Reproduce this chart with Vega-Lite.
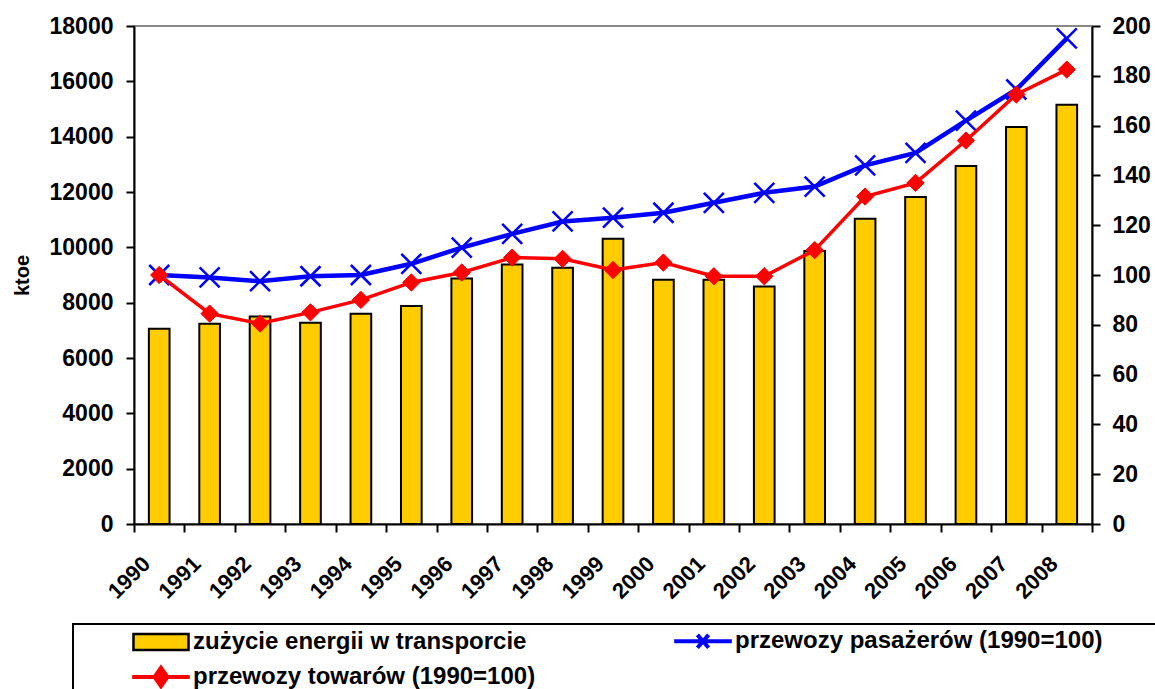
{
  "$schema": "https://vega.github.io/schema/vega-lite/v6.json",
  "width": 958,
  "height": 498,
  "autosize": "none",
  "padding": {"left": 134, "top": 26, "right": 63, "bottom": 165},
  "background": "white",
  "data": {
    "values": [
      {"rok": "1990", "energia": 7060, "pasazerowie": 100, "towary": 100},
      {"rok": "1991", "energia": 7240, "pasazerowie": 99, "towary": 84.5},
      {"rok": "1992", "energia": 7500, "pasazerowie": 97.5, "towary": 80.5},
      {"rok": "1993", "energia": 7270, "pasazerowie": 99.5, "towary": 85},
      {"rok": "1994", "energia": 7600, "pasazerowie": 100, "towary": 90},
      {"rok": "1995", "energia": 7880, "pasazerowie": 104.5, "towary": 97},
      {"rok": "1996", "energia": 8870, "pasazerowie": 111, "towary": 101},
      {"rok": "1997", "energia": 9380, "pasazerowie": 116.5, "towary": 107},
      {"rok": "1998", "energia": 9260, "pasazerowie": 121.5, "towary": 106.5},
      {"rok": "1999", "energia": 10310, "pasazerowie": 123, "towary": 102},
      {"rok": "2000", "energia": 8830, "pasazerowie": 125, "towary": 105},
      {"rok": "2001", "energia": 8830, "pasazerowie": 129, "towary": 99.5},
      {"rok": "2002", "energia": 8580, "pasazerowie": 133, "towary": 99.5},
      {"rok": "2003", "energia": 9870, "pasazerowie": 135.5, "towary": 110},
      {"rok": "2004", "energia": 11030, "pasazerowie": 144, "towary": 131.5},
      {"rok": "2005", "energia": 11820, "pasazerowie": 149, "towary": 137},
      {"rok": "2006", "energia": 12940, "pasazerowie": 162, "towary": 154},
      {"rok": "2007", "energia": 14350, "pasazerowie": 174.5, "towary": 172.5},
      {"rok": "2008", "energia": 15150, "pasazerowie": 195, "towary": 182.5}
    ]
  },
  "config": {
    "font": "Liberation Sans",
    "view": {"stroke": "#888888", "strokeWidth": 2},
    "axis": {
      "domainColor": "black",
      "domainWidth": 2,
      "tickColor": "black",
      "tickWidth": 2,
      "tickSize": 8,
      "labelFont": "Liberation Sans",
      "labelFontWeight": "bold",
      "labelColor": "black",
      "titleFont": "Liberation Sans",
      "titleFontWeight": "bold",
      "titleColor": "black",
      "grid": false,
      "zindex": 1
    },
    "legend": {
      "orient": "none",
      "legendX": -61,
      "legendY": 598,
      "direction": "horizontal",
      "columns": 2,
      "columnPadding": -10,
      "rowPadding": 3,
      "padding": 5,
      "strokeColor": "black",
      "strokeWidth": 2,
      "gridAlign": "each",
      "labelFont": "Liberation Sans",
      "labelFontSize": 24,
      "labelFontWeight": "bold",
      "labelColor": "black",
      "labelLimit": 700,
      "symbolSize": 256,
      "symbolOffset": 71,
      "labelOffset": 20
    }
  },
  "layer": [
    {
      "mark": {"type": "bar", "fill": "#FFCC00", "stroke": "black", "strokeWidth": 2, "width": {"band": 0.41}},
      "encoding": {
        "x": {
          "field": "rok",
          "type": "ordinal",
          "scale": {"paddingInner": 0, "paddingOuter": 0},
          "axis": {
            "title": null,
            "tickBand": "extent",
            "labelAngle": -45,
            "labelAlign": "right",
            "labelBaseline": "middle",
            "labelFontSize": 22,
            "labelPadding": 28,
            "labelOffset": -13,
            "labelOverlap": false,
            "encode": {"ticks": {"update": {"y": {"value": -8}}}}
          }
        },
        "y": {
          "field": "energia",
          "type": "quantitative",
          "scale": {"domain": [0, 18000], "nice": false},
          "axis": {
            "title": "ktoe",
            "titleFontSize": 20,
            "titlePadding": 17,
            "values": [0, 2000, 4000, 6000, 8000, 10000, 12000, 14000, 16000, 18000],
            "format": "d",
            "labelFontSize": 23,
            "labelPadding": 13,
            "labelOverlap": false,
            "encode": {"ticks": {"update": {"x": {"value": 8}}}}
          }
        }
      }
    },
    {
      "encoding": {
        "x": {"field": "rok", "type": "ordinal"}
      },
      "layer": [
        {
          "mark": {
            "type": "line",
            "strokeWidth": 4.5,
            "point": {"shape": "M-1,-1L1,1M-1,1L1,-1", "filled": false, "size": 400, "strokeWidth": 2.5}
          },
          "encoding": {
            "y": {
              "field": "pasazerowie",
              "type": "quantitative",
              "scale": {"domain": [0, 200], "nice": false},
              "axis": {
                "orient": "right",
                "title": null,
                "values": [0, 20, 40, 60, 80, 100, 120, 140, 160, 180, 200],
                "labelFontSize": 23,
                "labelPadding": 12,
                "labelOverlap": false,
                "encode": {"ticks": {"update": {"x": {"value": -8}}}}
              }
            },
            "stroke": {
              "datum": "przewozy pasażerów (1990=100)",
              "scale": {
                "domain": ["zużycie energii w transporcie", "przewozy pasażerów (1990=100)", "przewozy towarów (1990=100)"],
                "range": ["black", "#0000FF", "#FF0000"]
              },
              "legend": {
                "title": null,
                "encode": {
                  "symbols": {
                    "update": {
                      "size": {"value": 256},
                      "opacity": {"value": 1},
                      "fillOpacity": {"value": 1},
                      "strokeOpacity": {"value": 1},
                      "shape": {"signal": "datum.value === 'zużycie energii w transporcie' ? 'M-9.125,0M56.375,0M-3.44,-1H3.44V1H-3.44Z' : datum.value === 'przewozy pasażerów (1990=100)' ? 'M-9.125,0M56.375,0M-3.6,0H3.6M-0.7,-0.8L0.7,0.8M-0.7,0.8L0.7,-0.8' : 'M-9.125,0M56.375,0M-3.6,0H3.6M0,-1.15L0.8,0L0,1.15L-0.8,0Z'"},
                      "fill": {"signal": "datum.value === 'zużycie energii w transporcie' ? '#FFCC00' : datum.value === 'przewozy towarów (1990=100)' ? '#FF0000' : 'transparent'"},
                      "strokeWidth": {"signal": "datum.value === 'zużycie energii w transporcie' ? 2.5 : 4"}
                    }
                  }
                }
              }
            }
          }
        },
        {
          "mark": {
            "type": "line",
            "strokeWidth": 3.5,
            "point": {"shape": "diamond", "filled": true, "fill": "#FF0000", "size": 300, "strokeWidth": 1}
          },
          "encoding": {
            "y": {"field": "towary", "type": "quantitative"},
            "stroke": {
              "datum": "przewozy towarów (1990=100)",
              "legend": {
                "title": null,
                "encode": {
                  "symbols": {
                    "update": {
                      "size": {"value": 256},
                      "opacity": {"value": 1},
                      "fillOpacity": {"value": 1},
                      "strokeOpacity": {"value": 1},
                      "shape": {"signal": "datum.value === 'zużycie energii w transporcie' ? 'M-9.125,0M56.375,0M-3.44,-1H3.44V1H-3.44Z' : datum.value === 'przewozy pasażerów (1990=100)' ? 'M-9.125,0M56.375,0M-3.6,0H3.6M-0.7,-0.8L0.7,0.8M-0.7,0.8L0.7,-0.8' : 'M-9.125,0M56.375,0M-3.6,0H3.6M0,-1.15L0.8,0L0,1.15L-0.8,0Z'"},
                      "fill": {"signal": "datum.value === 'zużycie energii w transporcie' ? '#FFCC00' : datum.value === 'przewozy towarów (1990=100)' ? '#FF0000' : 'transparent'"},
                      "strokeWidth": {"signal": "datum.value === 'zużycie energii w transporcie' ? 2.5 : 4"}
                    }
                  }
                }
              }
            }
          }
        }
      ]
    }
  ],
  "resolve": {"scale": {"y": "independent"}}
}
